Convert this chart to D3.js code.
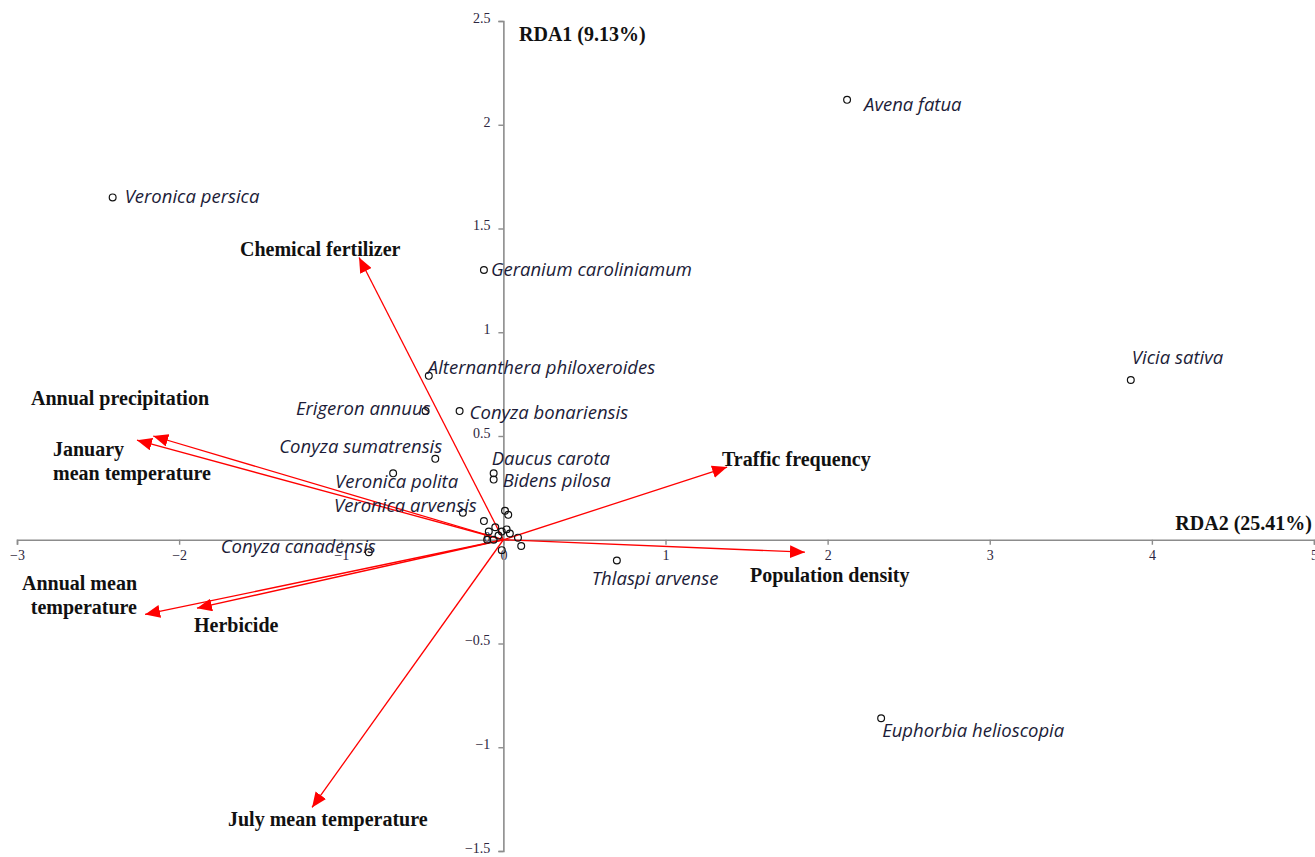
<!DOCTYPE html>
<html>
<head>
<meta charset="utf-8">
<script src="https://cdn.jsdelivr.net/npm/d3@7"></script>
<style>
  html, body { margin: 0; padding: 0; background: #fff; }
  svg { display: block; }
  .tick-label { font-family: "Liberation Serif", "Times New Roman", serif; font-size: 14px; fill: #2d2640; }
  .env-label { font-family: "Liberation Serif", "Times New Roman", serif; font-size: 20px; font-weight: bold; fill: #111; }
  .sp-label { font-family: "Open Sans", "DejaVu Sans", sans-serif; font-style: italic; font-size: 18.5px; fill: #1c1c38; }
</style>
</head>
<body>
<svg id="chart" width="1315" height="857"></svg>
<script>
// ---- Data -----------------------------------------------------------------
// Environmental vectors (biplot arrow tips), RDA2 on x, RDA1 on y
const envNames = ["Chemical fertilizer", "Annual precipitation", "January mean temperature",
  "Annual mean temperature", "Herbicide", "July mean temperature",
  "Traffic frequency", "Population density"];
const envX = [-0.89, -2.16, -2.26, -2.21, -1.89, -1.18, 1.38, 1.86];
const envY = [1.36, 0.50, 0.48, -0.36, -0.33, -1.29, 0.35, -0.06];

// Named species scores
const speciesNames = ["Avena fatua", "Veronica persica", "Geranium caroliniamum", "Vicia sativa",
  "Alternanthera philoxeroides", "Erigeron annuus", "Conyza bonariensis", "Conyza sumatrensis",
  "Daucus carota", "Bidens pilosa", "Veronica polita", "Veronica arvensis",
  "Conyza canadensis", "Thlaspi arvense", "Euphorbia helioscopia"];
const speciesX = [2.12, -2.41, -0.12, 3.87, -0.46, -0.48, -0.27, -0.42, -0.06, -0.06, -0.68, -0.25, -0.83, 0.70, 2.33];
const speciesY = [2.12, 1.65, 1.30, 0.77, 0.79, 0.62, 0.62, 0.39, 0.32, 0.29, 0.32, 0.13, -0.06, -0.10, -0.86];

// Unlabelled species clustered near the origin
const otherX = [0.01, 0.03, -0.12, -0.09, -0.05, -0.01, 0.02, 0.04, -0.03, -0.10, -0.06, 0.09, 0.11, -0.01];
const otherY = [0.14, 0.12, 0.09, 0.04, 0.06, 0.04, 0.05, 0.03, 0.02, 0.00, 0.00, 0.01, -0.03, -0.05];

// Axis ticks and titles
const xTicks = [-3, -2, -1, 0, 1, 2, 3, 4, 5];
const yTicks = [-1.5, -1, -0.5, 0, 0.5, 1, 1.5, 2, 2.5];
const xTitle = "RDA2 (25.41%)";
const yTitle = "RDA1 (9.13%)";

// ---- Label placement (pixel positions / offsets from the mark) ---------------
const envLabelPlacement = {
  "Chemical fertilizer":       { x: 240, y: 256, anchor: "start", lines: ["Chemical fertilizer"] },
  "Annual precipitation":      { x: 31,  y: 405, anchor: "start", lines: ["Annual precipitation"] },
  "January mean temperature":  { x: 53,  y: 456, anchor: "start", lines: ["January", "mean temperature"] },
  "Annual mean temperature":   { x: 137, y: 590, anchor: "end",   lines: ["Annual mean", "temperature"] },
  "Herbicide":                 { x: 194, y: 632, anchor: "start", lines: ["Herbicide"] },
  "July mean temperature":     { x: 228, y: 826, anchor: "start", lines: ["July mean temperature"] },
  "Traffic frequency":         { x: 722, y: 466, anchor: "start", lines: ["Traffic frequency"] },
  "Population density":        { x: 750, y: 582, anchor: "start", lines: ["Population density"] }
};
const speciesLabelOffset = {
  "Avena fatua":                 { dx: 17,  dy: 11,  anchor: "start" },
  "Veronica persica":            { dx: 12,  dy: 6,   anchor: "start" },
  "Geranium caroliniamum":       { dx: 7,   dy: 6,   anchor: "start" },
  "Vicia sativa":                { dx: 1,   dy: -16, anchor: "start" },
  "Alternanthera philoxeroides": { dx: -1,  dy: -2,  anchor: "start" },
  "Erigeron annuus":             { dx: 5,   dy: 4,   anchor: "end" },
  "Conyza bonariensis":          { dx: 10,  dy: 8,   anchor: "start" },
  "Conyza sumatrensis":          { dx: 7,   dy: -6,  anchor: "end" },
  "Daucus carota":               { dx: -2,  dy: -8,  anchor: "start" },
  "Bidens pilosa":               { dx: 9,   dy: 7,   anchor: "start" },
  "Veronica polita":             { dx: 65,  dy: 15,  anchor: "end" },
  "Veronica arvensis":           { dx: 14,  dy: -1,  anchor: "end" },
  "Conyza canadensis":           { dx: 7,   dy: 1,   anchor: "end" },
  "Thlaspi arvense":             { dx: -25, dy: 24,  anchor: "start" },
  "Euphorbia helioscopia":       { dx: 1,   dy: 19,  anchor: "start" }
};

// ---- Scales ------------------------------------------------------------------
const svg = d3.select("#chart");
const x = d3.scaleLinear().domain([-3, 5]).range([17, 1314]);
const y = d3.scaleLinear().domain([-1.5, 2.5]).range([851, 21]);

// ---- Axes crossing at the origin -------------------------------------------
const axisColor = "#8c8c8c";
const xAxis = svg.append("g").attr("transform", `translate(0,${y(0)})`)
  .call(d3.axisBottom(x).tickValues(xTicks).tickSize(5).tickPadding(5).tickFormat(d3.format("")));
const yAxis = svg.append("g").attr("transform", `translate(${x(0)},0)`)
  .call(d3.axisLeft(y).tickValues(yTicks).tickSize(5).tickPadding(8).tickFormat(d3.format("")));
[xAxis, yAxis].forEach(g => {
  g.attr("font-size", null).attr("font-family", null);
  g.select(".domain").attr("stroke", axisColor).attr("stroke-width", 1.6);
  g.selectAll(".tick line").attr("stroke", axisColor).attr("stroke-width", 1.4);
  g.selectAll(".tick text").attr("class", "tick-label");
});
yAxis.selectAll(".tick text").attr("dy", "0.1em");

// ---- Environmental arrows ----------------------------------------------------
const defs = svg.append("defs");
defs.append("marker")
  .attr("id", "arrowhead")
  .attr("markerUnits", "userSpaceOnUse")
  .attr("viewBox", "0 0 14 12")
  .attr("refX", 14).attr("refY", 6)
  .attr("markerWidth", 15).attr("markerHeight", 13)
  .attr("orient", "auto")
  .append("path").attr("d", "M0,0 L14,6 L0,12 Z").attr("fill", "#ff0000");

const env = envNames.map((n, i) => ({ name: n, x: envX[i], y: envY[i] }));
svg.append("g").selectAll("line").data(env).join("line")
  .attr("x1", x(0)).attr("y1", y(0))
  .attr("x2", d => x(d.x)).attr("y2", d => y(d.y))
  .attr("stroke", "#ff0000").attr("stroke-width", 1.3)
  .attr("marker-end", "url(#arrowhead)");

// ---- Species points ----------------------------------------------------------
const species = speciesNames.map((n, i) => ({ name: n, x: speciesX[i], y: speciesY[i] }));
const others = otherX.map((v, i) => ({ x: v, y: otherY[i] }));
svg.append("g").selectAll("circle").data(species.concat(others)).join("circle")
  .attr("cx", d => x(d.x)).attr("cy", d => y(d.y)).attr("r", 3.4)
  .attr("fill", "none").attr("stroke", "#111").attr("stroke-width", 1.2);

// ---- Species labels ------------------------------------------------------------
svg.append("g").selectAll("text").data(species).join("text")
  .attr("class", "sp-label")
  .attr("x", d => x(d.x) + speciesLabelOffset[d.name].dx)
  .attr("y", d => y(d.y) + speciesLabelOffset[d.name].dy)
  .attr("text-anchor", d => speciesLabelOffset[d.name].anchor)
  .text(d => d.name);

// ---- Environmental labels -----------------------------------------------------
const envText = svg.append("g").selectAll("text").data(env).join("text")
  .attr("class", "env-label")
  .attr("x", d => envLabelPlacement[d.name].x)
  .attr("y", d => envLabelPlacement[d.name].y)
  .attr("text-anchor", d => envLabelPlacement[d.name].anchor);
envText.each(function (d) {
  const p = envLabelPlacement[d.name];
  d3.select(this).selectAll("tspan").data(p.lines).join("tspan")
    .attr("x", p.x).attr("dy", (l, i) => i === 0 ? 0 : 24).text(l => l);
});

// ---- Axis titles -----------------------------------------------------------------
svg.append("text").attr("class", "env-label").attr("x", 519).attr("y", 41).text(yTitle);
svg.append("text").attr("class", "env-label").attr("x", 1312).attr("y", 530)
  .attr("text-anchor", "end").text(xTitle);
</script>
</body>
</html>
